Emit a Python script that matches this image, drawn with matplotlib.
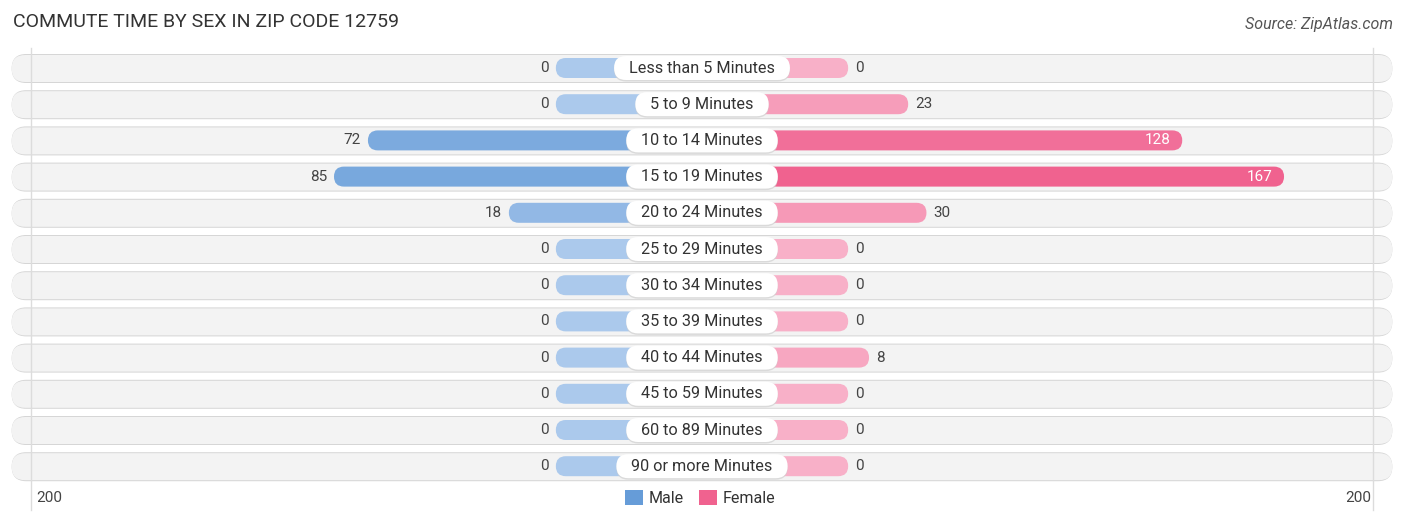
import matplotlib
matplotlib.use("Agg")
import matplotlib.pyplot as plt
from matplotlib.patches import FancyBboxPatch, Patch
import numpy as np

plt.rcParams['font.family'] = ['Roboto', 'DejaVu Sans']

categories = ["Less than 5 Minutes", "5 to 9 Minutes", "10 to 14 Minutes", "15 to 19 Minutes",
              "20 to 24 Minutes", "25 to 29 Minutes", "30 to 34 Minutes", "35 to 39 Minutes",
              "40 to 44 Minutes", "45 to 59 Minutes", "60 to 89 Minutes", "90 or more Minutes"]
male = [0, 0, 72, 85, 18, 0, 0, 0, 0, 0, 0, 0]
female = [0, 23, 128, 167, 30, 0, 0, 0, 8, 0, 0, 0]
axis_max = 200
title = "COMMUTE TIME BY SEX IN ZIP CODE 12759"
source = "Source: ZipAtlas.com"

W, H = 1406, 523
fig = plt.figure(figsize=(W / 100, H / 100), dpi=100)
ax = fig.add_axes([0, 0, 1, 1])

center_px = 702
px_per_unit = 2.61
row0_px = 68
row_step = 36.2
ax.set_xlim(-center_px / px_per_unit, (W - center_px) / px_per_unit)
ax.set_ylim((H - row0_px) / row_step, -row0_px / row_step)
ax.axis('off')

STUB = 56  # units of offset for the centered label area
y_per_px = 1 / row_step
renderer = fig.canvas.get_renderer()


def pill(x0, x1, yc, h_px, **kw):
    h = h_px * y_per_px
    r_px = h_px / 2
    r_units = r_px / px_per_unit
    aspect = (h / 2) / r_units
    p = FancyBboxPatch((x0, yc - h / 2), x1 - x0, h,
                       boxstyle=f"round,pad=0,rounding_size={r_units}",
                       mutation_aspect=aspect, **kw)
    ax.add_patch(p)
    return p


male_light = np.array([0xab, 0xc9, 0xec]) / 255
male_dark = np.array([0x66, 0x9c, 0xd8]) / 255
fem_light = np.array([0xf8, 0xb0, 0xc8]) / 255
fem_dark = np.array([0xf0, 0x62, 0x8f]) / 255
vmax = max(max(male), max(female))

grid_x = STUB + axis_max
for s in (-1, 1):
    ax.plot([s * (grid_x + 1.2), s * (grid_x + 1.2)], [-0.55, 12.2], color='#dcdcdc', lw=1, zorder=1)

half_row = 264.5
for i, cat in enumerate(categories):
    # row background with soft shadow
    pill(-half_row, half_row, i + 0.5 * y_per_px, 29, fc='#d6d6d6', ec='none', zorder=0.5)
    pill(-half_row, half_row, i + 0.5 * y_per_px, 27, fc='#f3f3f3', ec='none', zorder=0.6)

    m, f = male[i], female[i]
    tm = (m / vmax) ** 0.45
    tf = (f / vmax) ** 0.7
    cm = male_light + (male_dark - male_light) * tm
    cf = fem_light + (fem_dark - fem_light) * tf
    pill(-(STUB + m), 0, i, 20, fc=cm, ec='none', zorder=2)
    pill(0, STUB + f, i, 20, fc=cf, ec='none', zorder=2)

    # value labels
    if m > 100:
        ax.text(-(STUB + m) + 4.5, i, str(m), ha='left', va='center', fontsize=11, color='white', zorder=5)
    else:
        ax.text(-(STUB + m) - 2.7, i, str(m), ha='right', va='center', fontsize=11, color='#444444', zorder=5)
    if f > 100:
        ax.text(STUB + f - 4.5, i, str(f), ha='right', va='center', fontsize=11, color='white', zorder=5)
    else:
        ax.text(STUB + f + 2.7, i, str(f), ha='left', va='center', fontsize=11, color='#444444', zorder=5)

    # category label pill
    t = ax.text(0, i, cat, ha='center', va='center', fontsize=11.7, color='#333333', zorder=7)
    wpx = t.get_window_extent(renderer).width
    half_w = (wpx / 2 + 15) / px_per_unit
    pill(-half_w, half_w, i + 1.5 * y_per_px, 24, fc='#d0d0d0', ec='none', zorder=5.5, alpha=0.7)
    pill(-half_w, half_w, i, 24, fc='white', ec='none', zorder=6)

# axis labels
ax.text(-grid_x + 1.0, (498 - row0_px) / row_step, str(axis_max), ha='left', va='center',
        fontsize=11, color='#444444')
ax.text(grid_x + 0.5, (498 - row0_px) / row_step, str(axis_max), ha='right', va='center',
        fontsize=11, color='#444444')

# legend
handles = [Patch(fc=male_dark, ec='none', label='Male'), Patch(fc=fem_dark, ec='none', label='Female')]
fig.legend(handles=handles, loc='center', bbox_to_anchor=(700 / W, 1 - 498 / H), ncol=2,
           frameon=False, fontsize=11.5, handlelength=1.1, handleheight=1.1, handletextpad=0.35,
           columnspacing=1.0, labelcolor='#333333')

fig.text(13 / W, 1 - 22 / H, title, ha='left', va='center', fontsize=14, color='#333333')
fig.text(1393 / W, 1 - 25 / H, source, ha='right', va='center', fontsize=11.5, color='#555555',
         style='italic')

fig.savefig("out.png", dpi=100)
